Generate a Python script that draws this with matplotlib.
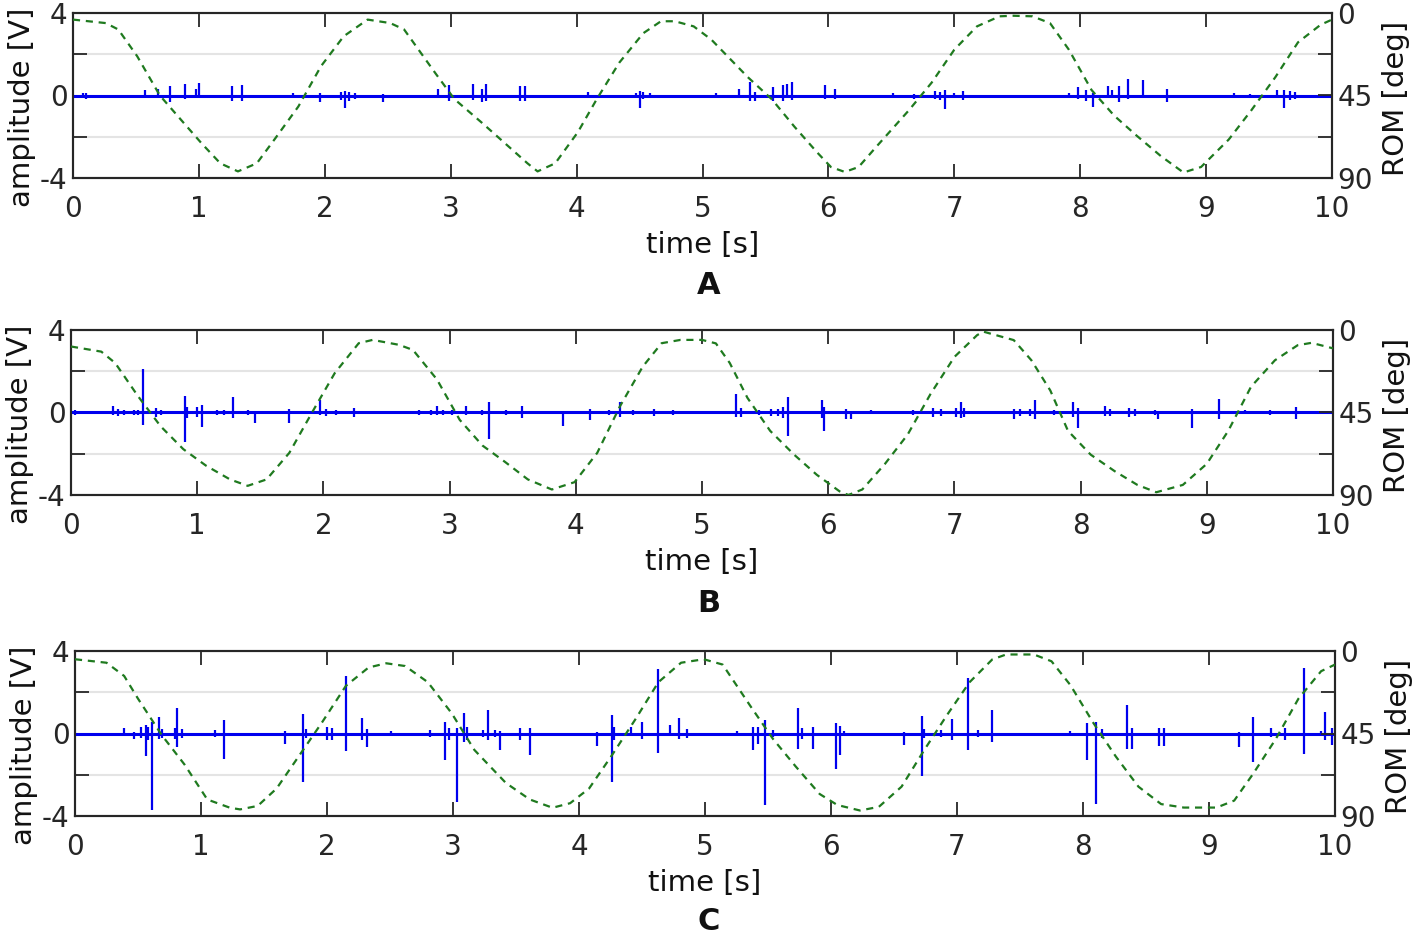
import matplotlib.pyplot as plt
import numpy as np

# ROM (goniometer) traces, degrees
rom_a_t = [0, 0.26, 0.36, 0.51, 0.69, 0.88, 1.02, 1.17, 1.31, 1.46, 1.6, 1.79, 1.97, 2.15, 2.34,
           2.52, 2.63, 2.88, 3.03, 3.25, 3.43, 3.61, 3.69, 3.83, 4.01, 4.16, 4.34, 4.53, 4.67,
           4.78, 4.93, 5.07, 5.36, 5.55, 5.73, 5.91, 6.02, 6.13, 6.24, 6.38, 6.64, 6.82, 7.0,
           7.18, 7.36, 7.47, 7.62, 7.76, 7.91, 8.09, 8.27, 8.45, 8.64, 8.82, 8.96, 9.18, 9.36,
           9.55, 9.73, 9.91, 10.0]
rom_a_deg = [3.6, 5.5, 9, 23.6, 45, 60, 71, 82, 86.4, 82, 69, 51, 29, 12.7, 3.6,
             5.5, 9, 33, 47, 60, 71, 82, 86.4, 82, 65, 47, 27, 11, 4.5,
             4.5, 7.3, 14.5, 35, 47, 62, 76, 84, 86.7, 84, 73, 53, 38, 20,
             7.3, 1.8, 1.5, 1.8, 5.5, 20, 42, 56, 67, 78, 87, 84, 69, 53,
             35, 16, 6.4, 3.6]

rom_b_t = [0, 0.24, 0.35, 0.53, 0.71, 0.89, 1.07, 1.26, 1.4, 1.55, 1.73, 1.91, 2.09, 2.28, 2.39,
           2.6, 2.71, 2.9, 3.08, 3.26, 3.44, 3.62, 3.81, 3.99, 4.17, 4.35, 4.53, 4.68, 4.83,
           5.0, 5.11, 5.22, 5.36, 5.54, 5.73, 5.91, 6.09, 6.16, 6.27, 6.45, 6.63, 6.81, 7.0,
           7.18, 7.23, 7.47, 7.61, 7.76, 7.9, 8.08, 8.27, 8.45, 8.6, 8.81, 9.0, 9.17, 9.35,
           9.54, 9.72, 9.83, 10.0]
rom_b_deg = [9, 11.8, 18, 36, 52.5, 65, 74, 81.5, 85, 81.5, 67, 45, 23.5, 7.2, 5.4,
             8.1, 10.9, 27, 49, 63, 72, 81.5, 87, 83, 67, 41.6, 20, 7.2, 5.4,
             5.4, 7.3, 18, 37, 55, 68, 79, 88, 90, 87, 73, 57, 35, 14.7,
             2.8, 0.9, 5.5, 16.5, 33, 55, 68, 77, 84.5, 88.5, 84.5, 73, 55, 31,
             16.5, 8.3, 7, 10]

rom_c_t = [0, 0.25, 0.39, 0.5, 0.69, 0.87, 1.05, 1.23, 1.31, 1.45, 1.6, 1.78, 1.96, 2.15, 2.33,
           2.47, 2.62, 2.8, 2.99, 3.17, 3.42, 3.61, 3.79, 3.93, 4.08, 4.26, 4.45, 4.63, 4.81,
           4.99, 5.14, 5.36, 5.54, 5.72, 5.91, 6.05, 6.23, 6.38, 6.56, 6.74, 6.92, 7.1, 7.28,
           7.39, 7.61, 7.75, 7.9, 8.08, 8.26, 8.44, 8.62, 8.8, 9.06, 9.2, 9.35, 9.53, 9.71,
           9.89, 10.0]
rom_c_deg = [4.5, 6.4, 13.6, 26, 46, 62, 81, 85.5, 86.4, 84.5, 75, 57, 39, 19, 9,
             6.7, 8.2, 17, 34, 54, 72, 81, 85.5, 83, 75, 57, 37, 17, 6.4,
             4.5, 7.4, 30, 48, 63, 78, 84, 87, 85, 74, 54, 35, 17, 4.6,
             1.9, 1.9, 5.6, 18.6, 39, 57.5, 74, 83.5, 85.4, 85.4, 81.6, 67, 48, 26,
             11, 7.4]

# EMG spikes: time [s], positive peak [V], negative peak [V]
spk_a_t = [0.08, 0.10, 0.57, 0.675, 0.77, 0.89, 0.98, 1.0, 1.26, 1.34, 1.75, 1.96, 2.13, 2.16, 2.19,
           2.24, 2.46, 2.9, 2.99, 3.18, 3.25, 3.28, 3.55, 3.59, 4.09, 4.47, 4.5, 4.53, 4.58,
           5.11, 5.29, 5.38, 5.42, 5.56, 5.64, 5.67, 5.71, 5.97, 6.05, 6.51, 6.68, 6.85, 6.89,
           6.93, 7.0, 7.07, 7.91, 7.98, 8.05, 8.1, 8.22, 8.25, 8.31, 8.38, 8.5, 8.69, 9.22,
           9.35, 9.56, 9.62, 9.67, 9.71]
spk_a_hi = [0.12, 0.1, 0.25, 0.3, 0.45, 0.55, 0.3, 0.6, 0.45, 0.5, 0.1, 0.1, 0.15, 0.2, 0.15,
            0.1, 0.05, 0.3, 0.5, 0.55, 0.3, 0.55, 0.45, 0.45, 0.15, 0.1, 0.2, 0.15, 0.1,
            0.1, 0.3, 0.65, 0.15, 0.4, 0.5, 0.55, 0.65, 0.5, 0.3, 0.1, 0.05, 0.2, 0.15,
            0.25, 0.1, 0.2, 0.1, 0.4, 0.25, 0.1, 0.45, 0.25, 0.45, 0.8, 0.75, 0.3, 0.1,
            0.05, 0.25, 0.25, 0.2, 0.15]
spk_a_lo = [-0.12, -0.15, -0.05, -0.1, -0.3, -0.15, -0.1, -0.1, -0.25, -0.25, -0.1, -0.3, -0.2, -0.6, -0.25,
            -0.15, -0.3, -0.1, -0.25, -0.2, -0.3, -0.25, -0.25, -0.25, -0.05, -0.1, -0.6, -0.15, -0.1,
            -0.05, -0.1, -0.25, -0.25, -0.25, -0.25, -0.1, -0.2, -0.15, -0.15, -0.05, -0.15, -0.15, -0.2,
            -0.65, -0.1, -0.2, -0.05, -0.15, -0.25, -0.55, -0.1, -0.1, -0.3, -0.15, -0.05, -0.3, -0.05,
            -0.1, -0.1, -0.6, -0.2, -0.15]

spk_b_t = [0.03, 0.33, 0.37, 0.42, 0.5, 0.53, 0.57, 0.67, 0.71, 0.9, 0.92, 1.0, 1.04, 1.16, 1.21,
           1.28, 1.4, 1.46, 1.73, 1.97, 2.02, 2.1, 2.24, 2.76, 2.85, 2.9, 2.95, 3.02, 3.13,
           3.26, 3.31, 3.45, 3.57, 3.9, 4.11, 4.26, 4.35, 4.45, 4.62, 4.77,
           5.27, 5.31, 5.45, 5.55, 5.6, 5.64, 5.68, 5.95, 5.97, 6.14, 6.18, 6.34, 6.67, 6.83,
           6.89, 7.01, 7.05, 7.08, 7.47, 7.52, 7.6, 7.64, 7.79, 7.94, 7.98, 8.19, 8.23, 8.38,
           8.43, 8.59, 8.61, 8.88, 9.1, 9.3, 9.5, 9.71]
spk_b_hi = [0.1, 0.3, 0.15, 0.12, 0.1, 0.12, 2.1, 0.2, 0.1, 0.8, 0.25, 0.25, 0.35, 0.1, 0.1,
            0.75, 0.1, 0.05, 0.15, 0.6, 0.15, 0.12, 0.2, 0.1, 0.12, 0.3, 0.1, 0.1, 0.3,
            0.1, 0.5, 0.1, 0.3, 0.05, 0.15, 0.1, 0.5, 0.1, 0.15, 0.1,
            0.9, 0.2, 0.1, 0.15, 0.15, 0.25, 0.75, 0.6, 0.25, 0.15, 0.05, 0.1, 0.1, 0.2,
            0.15, 0.2, 0.5, 0.2, 0.15, 0.15, 0.15, 0.6, 0.1, 0.5, 0.2, 0.3, 0.15, 0.2,
            0.15, 0.1, 0.05, 0.15, 0.65, 0.1, 0.1, 0.25]
spk_b_lo = [-0.1, -0.1, -0.15, -0.12, -0.1, -0.1, -0.6, -0.2, -0.1, -1.45, -0.25, -0.2, -0.7, -0.1, -0.1,
            -0.25, -0.1, -0.5, -0.5, -0.1, -0.15, -0.1, -0.2, -0.1, -0.12, -0.1, -0.1, -0.1, -0.1,
            -0.1, -1.3, -0.1, -0.25, -0.65, -0.35, -0.1, -0.2, -0.1, -0.15, -0.1,
            -0.2, -0.2, -0.1, -0.15, -0.15, -0.25, -1.15, -0.25, -0.9, -0.3, -0.3, -0.05, -0.1, -0.2,
            -0.15, -0.2, -0.25, -0.2, -0.3, -0.15, -0.15, -0.3, -0.1, -0.2, -0.75, -0.15, -0.15, -0.2,
            -0.15, -0.1, -0.3, -0.75, -0.3, -0.05, -0.1, -0.3]

spk_c_t = [0.39, 0.47, 0.52, 0.56, 0.58, 0.61, 0.67, 0.69, 0.79, 0.81, 0.85, 1.11, 1.18, 1.67, 1.81,
           1.83, 2.0, 2.04, 2.15, 2.28, 2.32, 2.51, 2.82, 2.94, 2.97, 3.03, 3.09, 3.11, 3.24,
           3.28, 3.33, 3.37, 3.53, 3.61, 4.14, 4.26, 4.28, 4.41, 4.5, 4.63, 4.72, 4.79, 4.86,
           5.25, 5.38, 5.42, 5.48, 5.54, 5.74, 5.77, 5.86, 6.04, 6.07, 6.1, 6.58, 6.72, 6.74,
           6.87, 6.96, 7.09, 7.17, 7.28, 7.9, 8.03, 8.1, 8.15, 8.35, 8.39, 8.6, 8.64, 9.24,
           9.35, 9.49, 9.6, 9.75, 9.89, 9.92, 9.98]
spk_c_hi = [0.25, 0.05, 0.3, 0.4, 0.3, 0.55, 0.8, 0.2, 0.25, 1.25, 0.2, 0.15, 0.65, 0.1, 0.95,
            0.2, 0.3, 0.25, 2.8, 0.75, 0.2, 0.1, 0.15, 0.55, 0.25, 0.25, 1.0, 0.3, 0.15,
            1.15, 0.15, 0.1, 0.25, 0.25, 0.05, 0.9, 0.3, 0.3, 0.55, 3.15, 0.4, 0.75, 0.2,
            0.1, 0.3, 0.3, 0.65, 0.15, 1.25, 0.25, 0.3, 0.5, 0.35, 0.1, 0.05, 0.85, 0.2,
            0.15, 0.7, 2.7, 0.15, 1.15, 0.1, 0.5, 0.55, 0.2, 1.4, 0.25, 0.25, 0.25, 0.05,
            0.8, 0.25, 0.25, 3.2, 0.1, 1.05, 0.25]
spk_c_lo = [-0.05, -0.25, -0.2, -1.1, -0.3, -3.7, -0.25, -0.2, -0.25, -0.65, -0.2, -0.15, -1.25, -0.5, -2.35,
            -0.2, -0.3, -0.3, -0.85, -0.3, -0.65, -0.1, -0.15, -1.3, -0.3, -3.3, -0.4, -0.3, -0.15,
            -0.3, -0.15, -0.8, -0.3, -1.05, -0.6, -2.35, -0.3, -0.1, -0.25, -0.95, -0.1, -0.25, -0.2,
            -0.1, -0.8, -0.5, -3.45, -0.15, -0.75, -0.25, -0.75, -1.7, -1.05, -0.1, -0.55, -2.05, -0.2,
            -0.15, -0.3, -0.8, -0.15, -0.4, -0.1, -1.3, -3.4, -0.2, -0.75, -0.75, -0.6, -0.6, -0.65,
            -1.4, -0.15, -0.3, -1.0, -0.1, -0.3, -0.55]

base_t = [0, 10]
base_v = [0, 0]

panels = [
    ("A", [73, 13, 1332, 178], rom_a_t, rom_a_deg, spk_a_t, spk_a_hi, spk_a_lo, 285),
    ("B", [71, 330, 1333, 495], rom_b_t, rom_b_deg, spk_b_t, spk_b_hi, spk_b_lo, 603),
    ("C", [75, 651, 1335, 816], rom_c_t, rom_c_deg, spk_c_t, spk_c_hi, spk_c_lo, 922),
]

W, H = 1418, 940
fig = plt.figure(figsize=(W / 100, H / 100), dpi=100)
fs = 20
lfs = 21
emg_col = '#0000ee'
rom_col = '#1f7a1f'
dark = '#262626'

for name, (x0, y0, x1, y1), rt, rd, st, sh, sl, ly in panels:
    ax = fig.add_axes([x0 / W, 1 - y1 / H, (x1 - x0) / W, (y1 - y0) / H])
    ax.set_xlim(0, 10)
    ax.set_ylim(-4, 4)
    ax.set_yticks([-4, -2, 0, 2, 4])
    ax.set_yticklabels(['-4', '', '0', '', '4'])
    ax.set_xticks(range(11))
    ax.grid(axis='y', color='#e4e4e4', lw=1.5)
    ax.set_axisbelow(True)
    ax.plot(base_t, base_v, color=emg_col, lw=2.2, zorder=3)
    ax.vlines(st, sl, sh, color=emg_col, lw=1.6, zorder=3)
    ax.tick_params(direction='in', length=10, width=1.3, labelsize=fs, top=True,
                   colors=dark, pad=12)
    ax.tick_params(axis='y', pad=4)
    for s in ax.spines.values():
        s.set_linewidth(1.5)
        s.set_color(dark)
    ax.set_xlabel('time [s]', fontsize=lfs, labelpad=6, color='#111111')
    ax.set_ylabel('amplitude [V]', fontsize=lfs, color='#111111')
    ax.yaxis.set_label_coords(-0.029, 0.43)

    ax2 = ax.twinx()
    ax2.set_ylim(90, 0)
    ax2.set_yticks([0, 22.5, 45, 67.5, 90])
    ax2.set_yticklabels(['0', '', '45', '', '90'])
    ax2.plot(rt, rd, color=rom_col, lw=1.6, ls=(0, (3.2, 2.6)), zorder=4)
    ax2.tick_params(direction='in', length=10, width=1.3, labelsize=fs, colors=dark, pad=4)
    for s in ax2.spines.values():
        s.set_linewidth(1.5)
        s.set_color(dark)
    ax2.set_ylabel('ROM [deg]', fontsize=lfs, color='#111111')
    ax2.yaxis.set_label_coords(1.040, 0.48)

    fig.text(709 / W, 1 - ly / H, name, ha='center', va='center', fontsize=22,
             fontweight='bold', color='#111111')

fig.savefig('out.png', dpi=100)
